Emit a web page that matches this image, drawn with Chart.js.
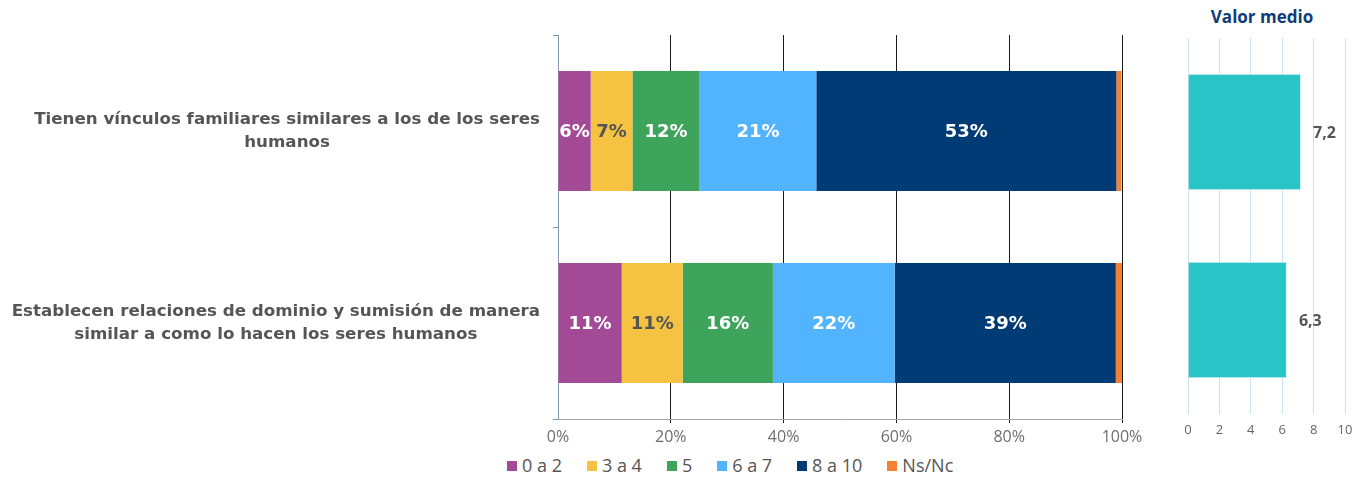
<!DOCTYPE html>
<html>
<head>
<meta charset="utf-8">
<script src="https://cdn.jsdelivr.net/npm/chart.js@4"></script>
<style>
  body { margin: 0; background: #fff; width: 1362px; height: 477px; position: relative; overflow: hidden; font-family: "Open Sans", sans-serif; }
  #main { position: absolute; left: 0; top: 0; }
  #mean { position: absolute; left: 1160px; top: 0; }
  #meanTitle { position: absolute; left: 1202px; width: 120px; top: 5px; line-height: 24px; text-align: center; font-weight: bold; color: #0f3d78; font-size: 17px; }
  #legend { position: absolute; left: 507px; top: 452px; height: 26px; display: flex; align-items: center; font-size: 18px; color: #555; }
  #legend span.item { display: flex; align-items: center; margin-right: 25px; }
  #legend span.box { width: 10px; height: 10px; display: inline-block; margin-right: 5px; margin-top: 2px; }
</style>
</head>
<body>
<canvas id="main" width="1150" height="449"></canvas>
<div id="meanTitle">Valor medio</div>
<canvas id="mean" width="202" height="449"></canvas>
<div id="legend"></div>
<script>
// categories (y axis)
const categories = [
	["Tienen vínculos familiares similares a los de los seres", "humanos"],
	["Establecen relaciones de dominio y sumisión de manera", "similar a como lo hacen los seres humanos"],
];

// series (percent per category)
const seriesNames = ["0 a 2", "3 a 4", "5", "6 a 7", "8 a 10", "Ns/Nc"];
const values0a2 = [5.8, 11.3];
const values3a4 = [7.4, 10.8];
const values5 = [11.9, 16.0];
const values6a7 = [20.7, 21.6];
const values8a10 = [53.2, 39.2];
const valuesNsNc = [0.9, 1.1];

// mean score per category
const meanValues = [7.2, 6.3];

const seriesValues = [values0a2, values3a4, values5, values6a7, values8a10, valuesNsNc];
const seriesColors = ["#a34a96", "#f5c242", "#3ea35b", "#52b3ff", "#003b75", "#f4812f"];
const labelColors = ["#ffffff", "#555555", "#ffffff", "#ffffff", "#ffffff", null];

const fontFamily = '"Open Sans", sans-serif';
const boldFamily = '"DejaVu Sans", sans-serif';

const segmentLabels = {
	id: "segmentLabels",
	afterDatasetsDraw(chart) {
		const ctx = chart.ctx;
		ctx.save();
		ctx.font = "bold 18px " + boldFamily;
		ctx.textAlign = "center";
		ctx.textBaseline = "middle";
		chart.data.datasets.forEach((ds, i) => {
			if (!labelColors[i]) return;
			chart.getDatasetMeta(i).data.forEach((bar, j) => {
				ctx.fillStyle = labelColors[i];
				ctx.fillText(Math.round(ds.data[j]) + "%", (bar.x + bar.base) / 2, bar.y + 1);
			});
		});
		ctx.restore();
	},
};

const categoryLabels = {
	id: "categoryLabels",
	afterDraw(chart) {
		const ctx = chart.ctx;
		const y = chart.scales.y;
		ctx.save();
		ctx.font = "bold 16.7px " + boldFamily;
		ctx.fillStyle = "#555555";
		ctx.textAlign = "center";
		ctx.textBaseline = "middle";
		categories.forEach((lines, i) => {
			const yc = y.getPixelForValue(i);
			const widest = Math.max(...lines.map((l) => ctx.measureText(l).width));
			const xc = y.right - 18 - widest / 2;
			lines.forEach((l, j) => {
				ctx.fillText(l, xc, yc + (j - (lines.length - 1) / 2) * 23);
			});
		});
		ctx.restore();
	},
};

new Chart(document.getElementById("main"), {
	type: "bar",
	data: {
		labels: categories,
		datasets: seriesNames.map((name, i) => ({
			label: name,
			data: seriesValues[i],
			backgroundColor: seriesColors[i],
			borderWidth: 0,
			barPercentage: 1,
			categoryPercentage: 0.625,
		})),
	},
	options: {
		indexAxis: "y",
		responsive: false,
		animation: false,
		layout: { padding: { top: 35, right: 28 } },
		plugins: { legend: { display: false }, tooltip: { enabled: false } },
		scales: {
			x: {
				stacked: true,
				min: 0,
				max: 100,
				ticks: { stepSize: 20, callback: (v) => v + "%", color: "#6e6e6e", font: { size: 16, family: fontFamily }, padding: 5 },
				grid: { color: (c) => (c.index === 0 ? "rgba(0,0,0,0)" : "#1a1a1a"), tickLength: 4 },
				border: { color: "#a6a6a6" },
				afterFit: (s) => { s.height = 30; },
			},
			y: {
				stacked: true,
				ticks: { display: false },
				grid: { drawOnChartArea: false, tickLength: 5, color: "#8497b0" },
				border: { color: "#8497b0" },
				afterFit: (s) => { s.width = 558; },
			},
		},
	},
	plugins: [segmentLabels, categoryLabels],
});

const meanLabels = {
	id: "meanLabels",
	afterDatasetsDraw(chart) {
		const ctx = chart.ctx;
		ctx.save();
		ctx.font = "bold 16px " + fontFamily;
		ctx.fillStyle = "#555";
		ctx.textAlign = "left";
		ctx.textBaseline = "middle";
		chart.getDatasetMeta(0).data.forEach((bar, j) => {
			ctx.fillText(meanValues[j].toFixed(1).replace(".", ","), bar.x + 12, bar.y + 1);
		});
		ctx.restore();
	},
};

new Chart(document.getElementById("mean"), {
	type: "bar",
	data: {
		labels: categories,
		datasets: [{
			data: meanValues,
			backgroundColor: "#28c4c6",
			borderColor: "#d9f3f3",
			borderWidth: 1,
			barPercentage: 1,
			categoryPercentage: 0.62,
		}],
	},
	options: {
		indexAxis: "y",
		responsive: false,
		animation: false,
		layout: { padding: { left: 28, right: 17, top: 38 } },
		plugins: { legend: { display: false }, tooltip: { enabled: false } },
		scales: {
			x: {
				min: 0,
				max: 10,
				ticks: { stepSize: 2, color: "#666", font: { size: 13, family: fontFamily }, padding: 8 },
				grid: { color: "#cce3f6", drawTicks: false },
				border: { display: false },
				afterFit: (s) => { s.height = 35; },
			},
			y: { display: false },
		},
	},
	plugins: [meanLabels],
});

// legend
const legend = document.getElementById("legend");
seriesNames.forEach((name, i) => {
	const item = document.createElement("span");
	item.className = "item";
	const box = document.createElement("span");
	box.className = "box";
	box.style.background = seriesColors[i];
	item.appendChild(box);
	item.appendChild(document.createTextNode(name));
	legend.appendChild(item);
});
</script>
</body>
</html>
